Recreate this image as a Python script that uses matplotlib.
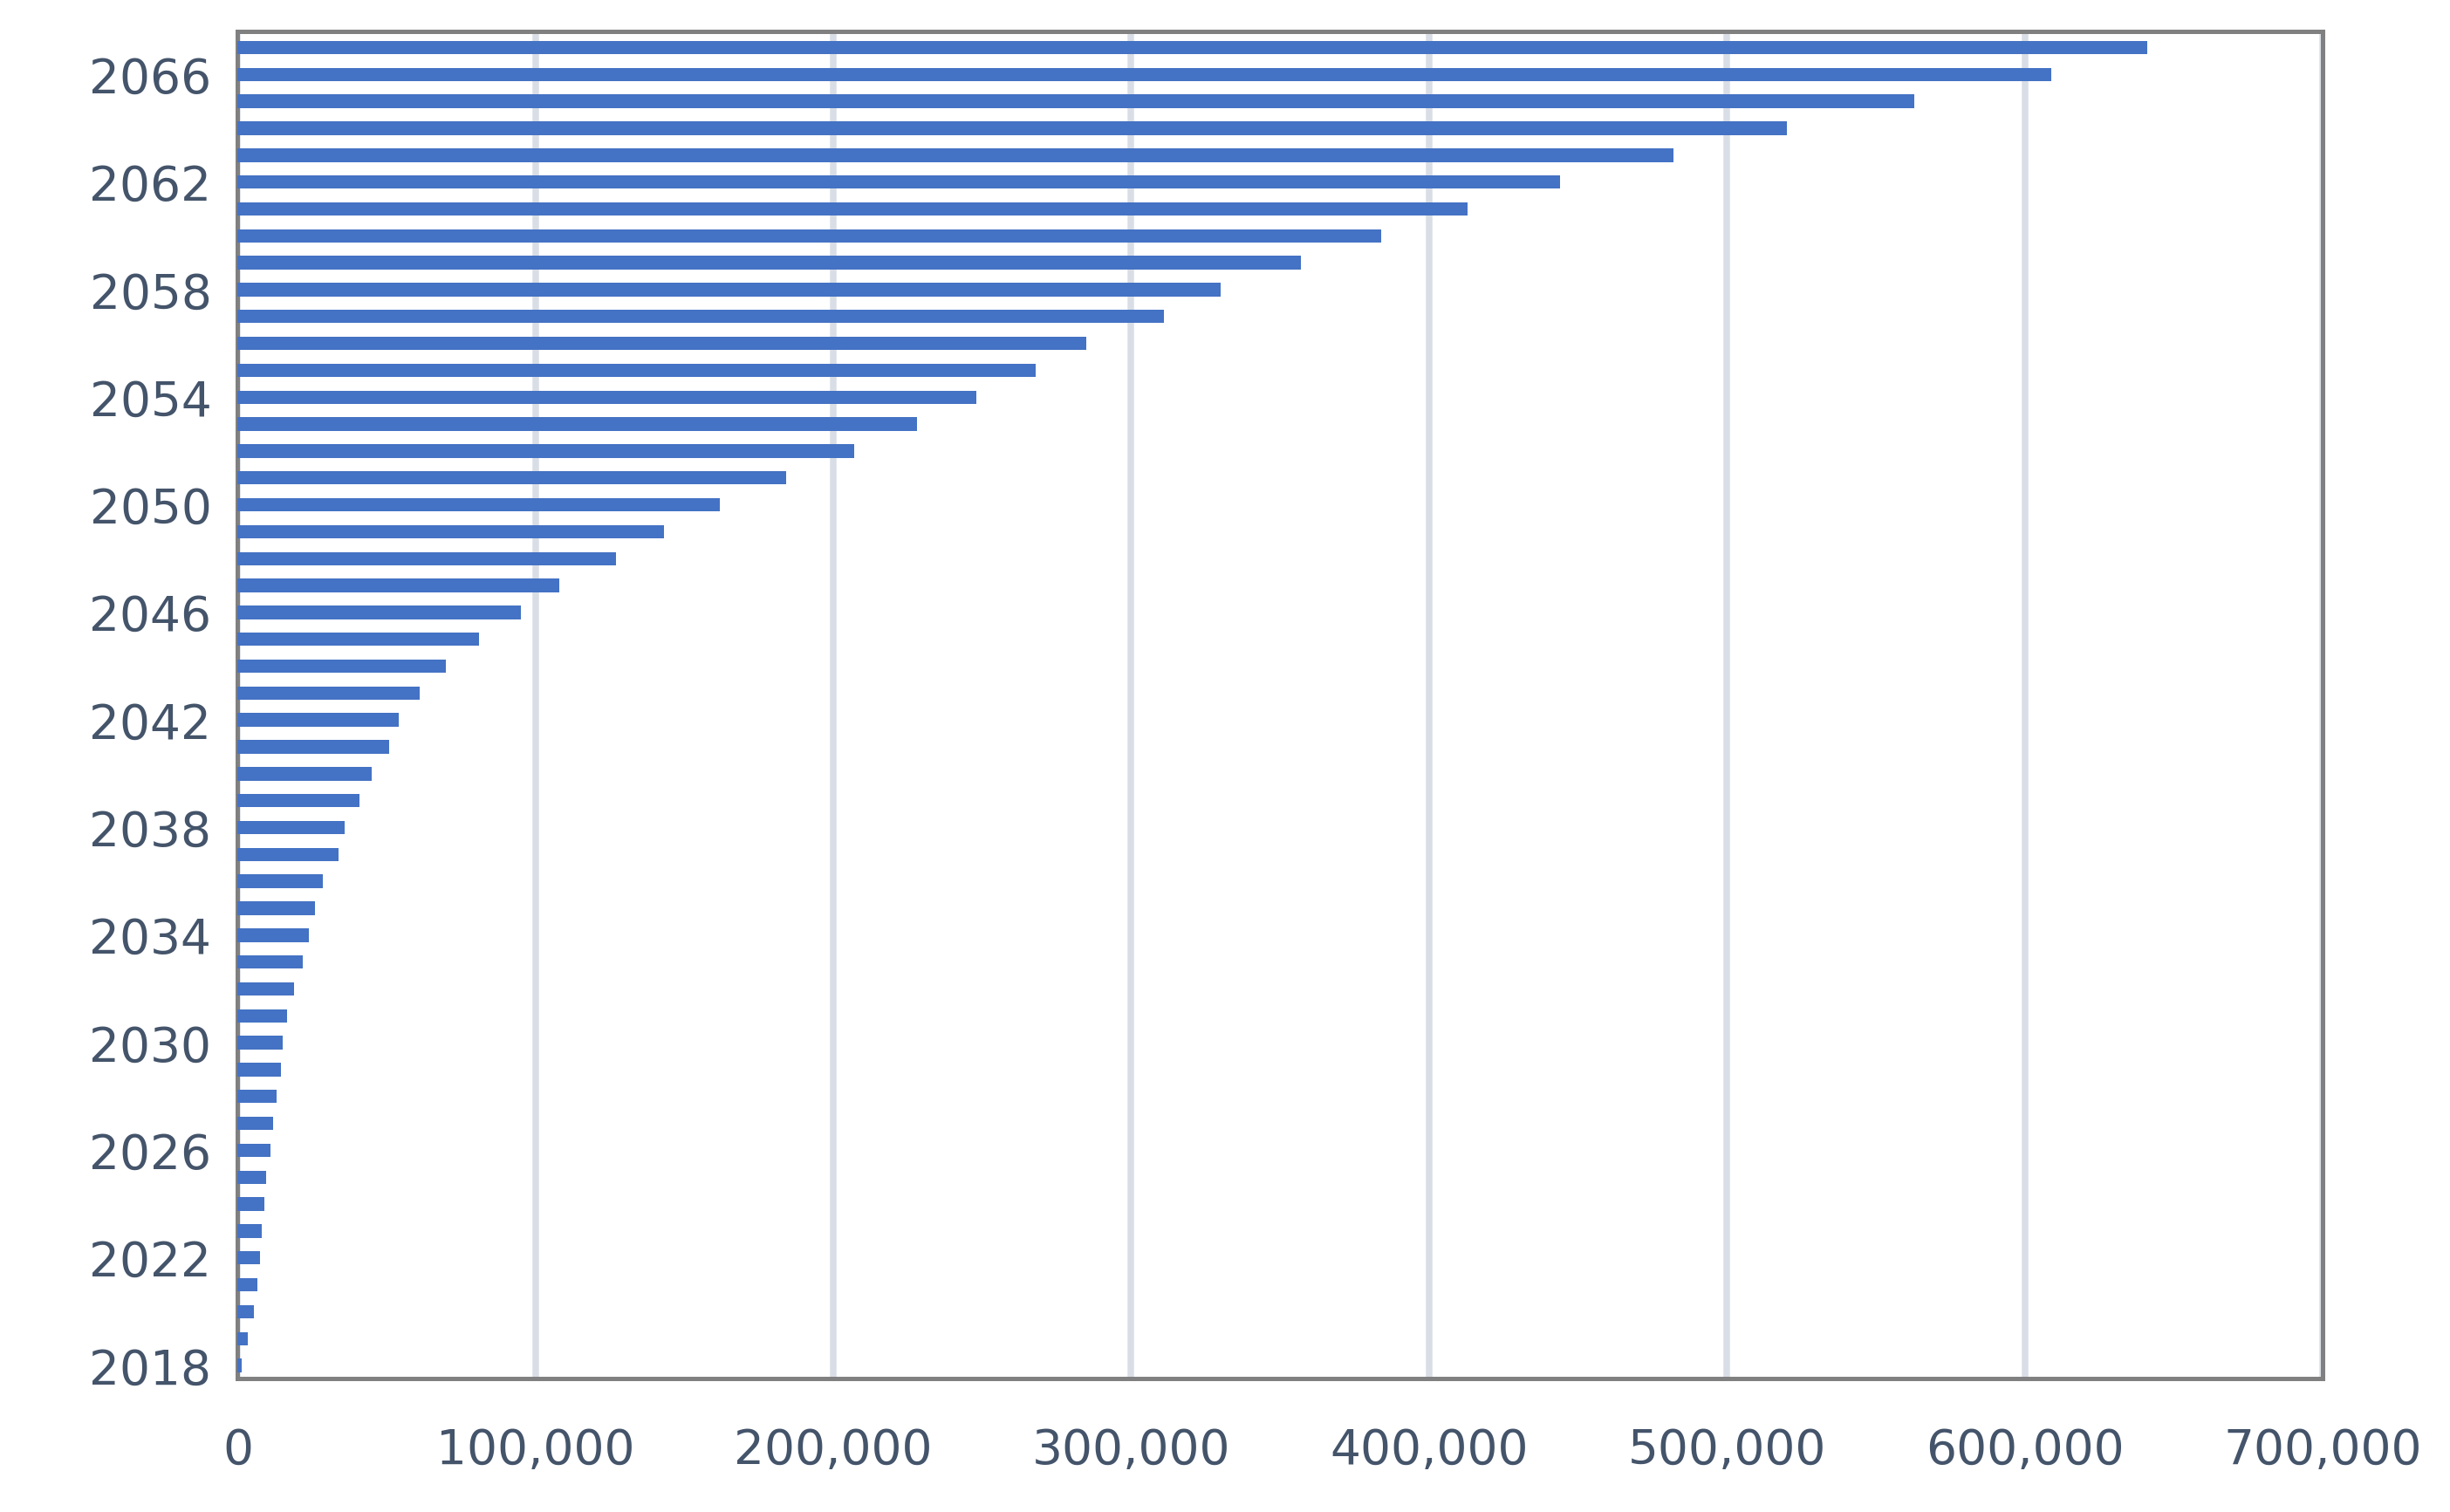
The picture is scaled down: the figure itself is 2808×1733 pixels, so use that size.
import numpy as np
import matplotlib.pyplot as plt

years = list(range(2018, 2068))
values = [1500, 3500, 5500, 6500, 7500, 8000, 9000, 9500, 11000, 12000,
          13000, 14500, 15000, 16500, 19000, 22000, 24000, 26000, 28500, 34000,
          36000, 41000, 45000, 51000, 54000, 61000, 70000, 81000, 95000, 108000,
          127000, 143000, 162000, 184000, 207000, 228000, 248000, 268000, 285000, 311000,
          330000, 357000, 384000, 413000, 444000, 482000, 520000, 563000, 609000, 641000]
xticks = list(range(0, 700001, 100000))
ytick_years = list(range(2018, 2067, 4))

text_color = '#44546a'
fig = plt.figure(figsize=(15.6, 9.63), dpi=180)
ax = fig.add_axes([0.097, 0.088, 0.851, 0.891])
ax.barh(years, values, height=0.5, color='#4472c4', zorder=3)
ax.set_xlim(0, 700000)
ax.set_ylim(2017.5, 2067.6)
ax.set_xticks(xticks)
ax.set_xticklabels(['0'] + [f'{v:,}' for v in xticks[1:]])
ax.set_yticks(ytick_years)
ax.tick_params(axis='both', length=0, labelsize=22, colors=text_color)
ax.tick_params(axis='x', pad=22)
ax.tick_params(axis='y', pad=12)
ax.xaxis.grid(True, color='#d9dee6', linewidth=3, zorder=0)
for s in ax.spines.values():
    s.set_color('#808080')
    s.set_linewidth(2)
fig.savefig('out.png', dpi=180)
